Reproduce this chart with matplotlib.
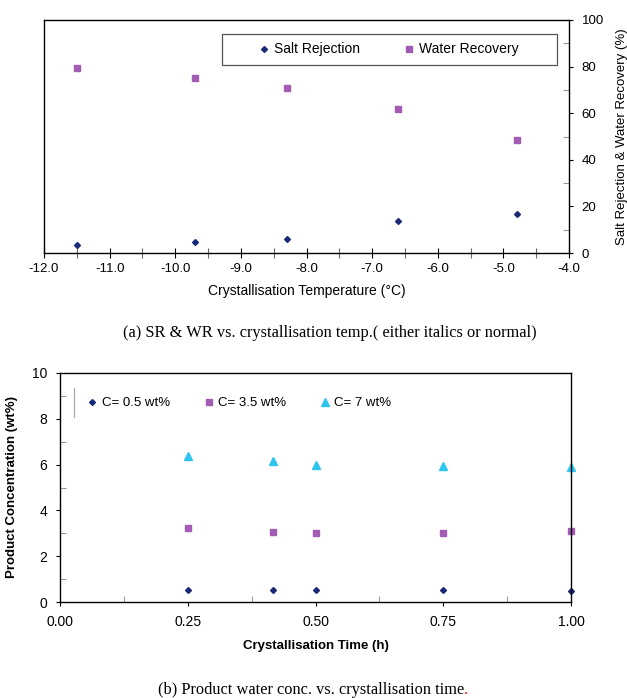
import matplotlib
matplotlib.use("Agg")
import matplotlib.pyplot as plt
from matplotlib.ticker import MultipleLocator, FormatStrFormatter
from matplotlib.patches import Rectangle
from matplotlib.lines import Line2D

plt.rcParams['font.family'] = ['Liberation Sans', 'DejaVu Sans']

# ---- data: panel (a)
temps = [-11.5, -9.7, -8.3, -6.6, -4.8]
salt_rejection = [3.4, 4.9, 6.0, 13.8, 16.9]
water_recovery = [79.2, 75.2, 70.9, 61.7, 48.7]

# ---- data: panel (b)
times = [0.25, 0.4167, 0.5, 0.75, 1.0]
conc_05 = [0.52, 0.52, 0.52, 0.52, 0.49]
conc_35 = [3.23, 3.06, 3.03, 3.03, 3.10]
conc_7 = [6.36, 6.14, 6.00, 5.92, 5.89]

navy = '#1b2a78'
purple = '#a35cb3'
cyan = '#2ec4f0'
grey = '#999999'

W, H = 627, 698
fig = plt.figure(figsize=(W / 100, H / 100), dpi=100)

def fx(px):
    return px / W

def fy(py):
    return 1 - py / H

# ---------------- Panel (a)
ax1 = fig.add_axes([fx(44), fy(253), fx(569) - fx(44), fy(20) - fy(253)])
ax1.plot(temps, salt_rejection, linestyle='none', marker='D', ms=3.0,
         color=navy, label='Salt Rejection')
ax1.plot(temps, water_recovery, linestyle='none', marker='s', ms=4.8,
         color=purple, label='Water Recovery')
ax1.set_xlim(-12, -4)
ax1.set_ylim(0, 100)
ax1.xaxis.set_major_locator(MultipleLocator(1.0))
ax1.xaxis.set_minor_locator(MultipleLocator(0.5))
ax1.xaxis.set_major_formatter(FormatStrFormatter('%.1f'))
ax1.yaxis.set_major_locator(MultipleLocator(20))
ax1.yaxis.set_minor_locator(MultipleLocator(10))
ax1.yaxis.tick_right()
ax1.yaxis.set_label_position('right')
ax1.tick_params(axis='x', which='major', direction='inout', length=7, width=0.8,
                labelsize=9.5, pad=4)
ax1.tick_params(axis='x', which='minor', direction='inout', length=7, width=0.8,
                color='#666666')
ax1.tick_params(axis='y', which='major', direction='out', length=3, width=0.8,
                labelsize=9.5, pad=6)
ax1.tick_params(axis='y', which='minor', direction='in', length=4, width=0.8,
                color=grey)
for s in ax1.spines.values():
    s.set_linewidth(1.0)
    s.set_color('black')
ax1.set_xlabel('Crystallisation Temperature (°C)', fontsize=10, labelpad=6)
ax1.set_ylabel('Salt Rejection & Water Recovery (%)', fontsize=9.5, labelpad=9)

# legend box
x0 = (222 - 44) / (569 - 44)
x1 = (557 - 44) / (569 - 44)
y0 = (253 - 65) / (253 - 20)
y1 = (253 - 34) / (253 - 20)
ax1.add_patch(Rectangle((x0, y0), x1 - x0, y1 - y0, transform=ax1.transAxes,
                        fill=True, facecolor='white', edgecolor='#555555',
                        linewidth=0.9, zorder=4))
leg1 = ax1.legend(loc='center', bbox_to_anchor=((x0 + x1) / 2, (y0 + y1) / 2),
                  ncol=2, frameon=False, fontsize=10, handlelength=0.5,
                  handletextpad=0.45, columnspacing=3.3, borderpad=0)
leg1.set_zorder(5)

fig.text(fx(330), fy(333), '(a) SR & WR vs. crystallisation temp.( either italics or normal)',
         ha='center', va='center', fontsize=11.8, family='Liberation Serif')

# ---------------- Panel (b)
ax2 = fig.add_axes([fx(60), fy(602), fx(571) - fx(60), fy(373) - fy(602)])
ax2.plot(times, conc_05, linestyle='none', marker='D', ms=3.0, color=navy,
         label='C= 0.5 wt%', clip_on=False)
ax2.plot(times, conc_35, linestyle='none', marker='s', ms=4.8, color=purple,
         label='C= 3.5 wt%', clip_on=False)
ax2.plot(times, conc_7, linestyle='none', marker='^', ms=5.5, color=cyan,
         label='C= 7 wt%', clip_on=False)
ax2.set_xlim(0, 1)
ax2.set_ylim(0, 10)
ax2.xaxis.set_major_locator(MultipleLocator(0.25))
ax2.xaxis.set_minor_locator(MultipleLocator(0.125))
ax2.xaxis.set_major_formatter(FormatStrFormatter('%.2f'))
ax2.yaxis.set_major_locator(MultipleLocator(2))
ax2.yaxis.set_minor_locator(MultipleLocator(1))
ax2.tick_params(which='major', direction='out', length=3, width=0.8,
                labelsize=10, pad=6)
ax2.tick_params(which='minor', direction='in', length=4, width=0.8, color=grey)
for s in ax2.spines.values():
    s.set_linewidth(1.0)
    s.set_color('black')
ax2.set_xlabel('Crystallisation Time (h)', fontsize=9.5, fontweight='bold', labelpad=8)
ax2.set_ylabel('Product Concentration (wt%)', fontsize=9.5, fontweight='bold', labelpad=10)

ax2.legend(loc='center left', bbox_to_anchor=((89 - 60) / (571 - 60), (602 - 403) / (602 - 373)),
           ncol=3, frameon=False, fontsize=9.5, handlelength=0.5,
           handletextpad=0.45, columnspacing=2.7, borderpad=0, borderaxespad=0)
fig.add_artist(Line2D([fx(74), fx(74)], [fy(388), fy(417)], color='#aaaaaa',
                      linewidth=0.9))

cap_b = fig.text(fx(158), fy(690), '(b) Product water conc. vs. crystallisation time',
                 ha='left', va='center', fontsize=11.8, family='Liberation Serif')
fig.canvas.draw()
bb = cap_b.get_window_extent(renderer=fig.canvas.get_renderer())
fig.text(bb.x1 / W, fy(690), '.', ha='left', va='center', fontsize=11.8,
         family='Liberation Serif', color='red')

fig.savefig('out.png', dpi=100)
